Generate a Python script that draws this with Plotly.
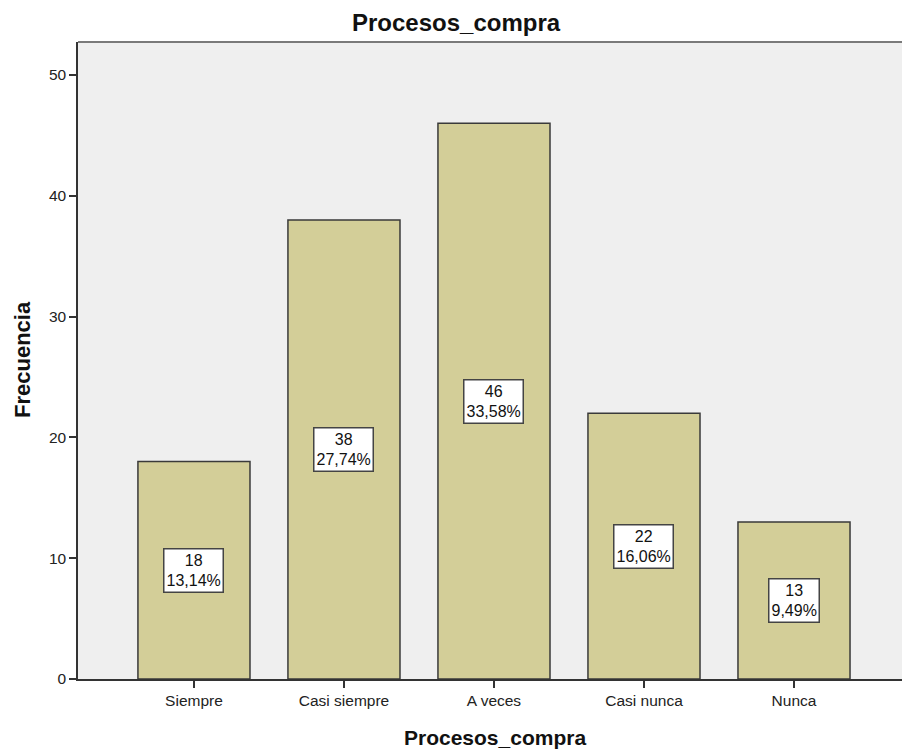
import plotly.graph_objects as go

# Frequency table for Procesos_compra
categories = ["Siempre", "Casi siempre", "A veces", "Casi nunca", "Nunca"]
counts = [18, 38, 46, 22, 13]
percent_labels = ["13,14%", "27,74%", "33,58%", "16,06%", "9,49%"]
y_ticks = [0, 10, 20, 30, 40, 50]

W, H = 902, 749
L, R, T, B = 78, 0, 42, 70

fig = go.Figure()
fig.add_trace(go.Bar(
    x=list(range(len(categories))),
    y=counts,
    width=0.747,
    marker=dict(color="#D3CE98", line=dict(color="#3a3a3a", width=1.5)),
    hoverinfo="skip",
))

# value + percentage box in the middle of each bar
for i, (c, p) in enumerate(zip(counts, percent_labels)):
    fig.add_annotation(
        x=i, y=c / 2, xref="x", yref="y",
        text=f"{c}<br>{p}", showarrow=False,
        font=dict(family="Liberation Sans, Arial", size=16, color="#111"),
        bgcolor="white", bordercolor="#444", borderwidth=1.5, borderpad=2,
        xanchor="center", yanchor="middle",
    )

plot_w = W - L - R
plot_h = H - T - B

def px_x(px):
    return (px - L) / plot_w

def px_y(py):
    return (H - B - py) / plot_h

title_font = dict(family="Liberation Sans, Arial", size=24, color="#111")
axis_title_font = dict(family="Liberation Sans, Arial", size=21, color="#111")

fig.add_annotation(x=px_x(456), y=px_y(22), xref="paper", yref="paper",
                   text="<b>Procesos_compra</b>", showarrow=False,
                   font=title_font, xanchor="center", yanchor="middle")
fig.add_annotation(x=px_x(495), y=px_y(737), xref="paper", yref="paper",
                   text="<b>Procesos_compra</b>", showarrow=False,
                   font=axis_title_font, xanchor="center", yanchor="middle")
fig.add_annotation(x=px_x(22), y=px_y(360), xref="paper", yref="paper",
                   text="<b>Frecuencia</b>", showarrow=False, textangle=-90,
                   font=dict(family="Liberation Sans, Arial", size=22, color="#111"),
                   xanchor="center", yanchor="middle")

# top frame line
fig.add_shape(type="line", xref="paper", yref="paper", x0=0, x1=1, y0=1, y1=1,
              line=dict(color="#7a7a7a", width=2))

fig.update_layout(
    width=W, height=H,
    margin=dict(l=L, r=R, t=T, b=B, pad=0),
    paper_bgcolor="white",
    plot_bgcolor="#EFEFEF",
    showlegend=False,
    font=dict(family="Liberation Sans, Arial", size=15, color="#222"),
    xaxis=dict(
        range=[-0.773, 4.72],
        tickmode="array", tickvals=list(range(len(categories))), ticktext=categories,
        ticks="outside", ticklen=7, tickwidth=1.5, tickcolor="#333",
        showline=True, linecolor="#333", linewidth=1.5,
        showgrid=False, zeroline=False, fixedrange=True,
        tickfont=dict(size=15.5, color="#222"),
    ),
    yaxis=dict(
        range=[0, 52.73],
        tickmode="array", tickvals=y_ticks,
        ticks="outside", ticklen=7, tickwidth=1.5, tickcolor="#333",
        showline=True, linecolor="#333", linewidth=1.5,
        showgrid=False, zeroline=False, fixedrange=True,
        tickfont=dict(size=15.5, color="#222"),
    ),
)

fig.write_html("out.html")
